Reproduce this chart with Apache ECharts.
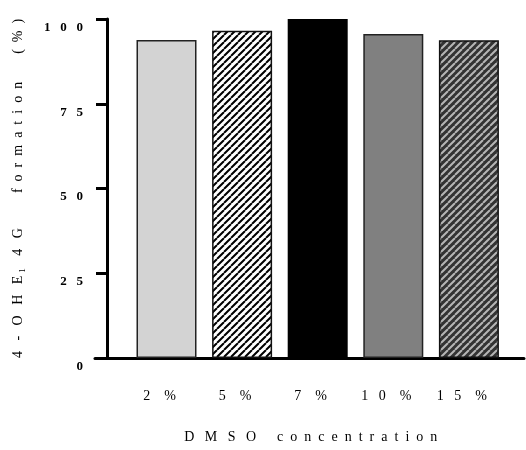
<!DOCTYPE html>
<html>
<head>
<meta charset="utf-8">
<script src="https://cdn.jsdelivr.net/npm/echarts@6/dist/echarts.min.js"></script>
<style>html,body{margin:0;padding:0;background:#fff}#c{width:526px;height:450px}</style>
</head>
<body>
<div id="c"></div>
<script>
const categories = ['2%', '5%', '7%', '10%', '15%'];
const values = [93.8, 96.5, 100, 95.6, 93.7];
const yTicks = [0, 25, 50, 75, 100];
const xTitle = 'DMSO concentration';

function hatch(bg, fg, p, lw) {
  const c = document.createElement('canvas');
  c.width = p; c.height = p;
  const ctx = c.getContext('2d');
  ctx.fillStyle = bg; ctx.fillRect(0, 0, p, p);
  ctx.strokeStyle = fg; ctx.lineWidth = lw;
  ctx.beginPath();
  for (const k of [-p, 0, p]) { ctx.moveTo(k, p); ctx.lineTo(k + p, 0); }
  ctx.stroke();
  return c;
}
const fills = [
  { color: '#d3d3d3', borderColor: '#222', borderWidth: 1.5 },
  { color: { image: hatch('#fff', '#000', 7, 2), repeat: 'repeat' }, borderColor: '#111', borderWidth: 1.5 },
  { color: '#000', borderColor: '#000', borderWidth: 0 },
  { color: '#808080', borderColor: '#222', borderWidth: 1.5 },
  { color: { image: hatch('#333', '#b5b5b5', 7, 2), repeat: 'repeat' }, borderColor: '#111', borderWidth: 1.5 }
];

const chart = echarts.init(document.getElementById('c'));
const G = '   ';
const g2 = '  ';
const W = '      ';
const serif = 'Liberation Serif';
const xWords = xTitle.split(' ');
const sp = (s, gap) => s.split('').join(gap);
const yName = '{a|' + sp('4-OHE', G) + '}{s|1}{a|' + G + sp('4G', G) + '          ' +
  sp('formation', g2) + '        ' + sp('(%)', g2) + '}';
chart.setOption({
  animation: false,
  grid: [
    { left: 128.7, right: 19.3, top: 19, bottom: 92 },
    { left: 95, right: 2, top: 19, bottom: 92 }
  ],
  xAxis: [
    {
      type: 'category', data: categories, gridIndex: 0,
      axisLine: { show: false }, axisTick: { show: false },
      axisLabel: {
        margin: 31, fontFamily: serif, fontSize: 14, color: '#000',
        padding: [0, 14, 0, 0],
        formatter: v => v.replace('%', '').split('').join(G) + G + ' %'
      },
      name: sp(xWords[0], G) + W + sp(xWords[1], g2),
      nameLocation: 'middle', nameGap: 72,
      nameTextStyle: { fontFamily: serif, fontSize: 14, color: '#000', padding: [0, 14, 0, 0] }
    },
    {
      type: 'value', gridIndex: 1, min: 0, max: 1,
      axisLine: { show: true, lineStyle: { color: '#000', width: 3 } },
      axisTick: { show: false }, axisLabel: { show: false }, splitLine: { show: false }
    }
  ],
  yAxis: [
    {
      type: 'value', gridIndex: 0, min: 0, max: 100, interval: 25, offset: 21.7,
      axisLine: { show: true, lineStyle: { color: '#000', width: 3 } },
      axisTick: { show: true, length: 11, lineStyle: { color: '#000', width: 3 } },
      splitLine: { show: false },
      axisLabel: {
        margin: 24, fontFamily: serif, fontWeight: 'bold', fontSize: 13, color: '#000',
        verticalAlign: 'top', padding: [2, 0, 0, 0],
        formatter: v => yTicks.includes(v) ? String(v).split('').join(G) : ''
      },
      name: yName,
      nameLocation: 'middle', nameRotate: 90, nameGap: 80,
      nameTextStyle: {
        padding: [0, 0, 0, 0],
        rich: {
          a: { fontFamily: serif, fontSize: 14, color: '#000' },
          s: { fontFamily: serif, fontSize: 9, color: '#000', verticalAlign: 'bottom', padding: [8, 2, 0, 3] }
        }
      }
    },
    { type: 'value', gridIndex: 1, show: false, min: 0, max: 100 }
  ],
  series: [{
    type: 'bar', xAxisIndex: 0, yAxisIndex: 0, barWidth: 60,
    data: values.map((v, i) => ({ value: v, itemStyle: fills[i] }))
  }]
});
</script>
</body>
</html>
